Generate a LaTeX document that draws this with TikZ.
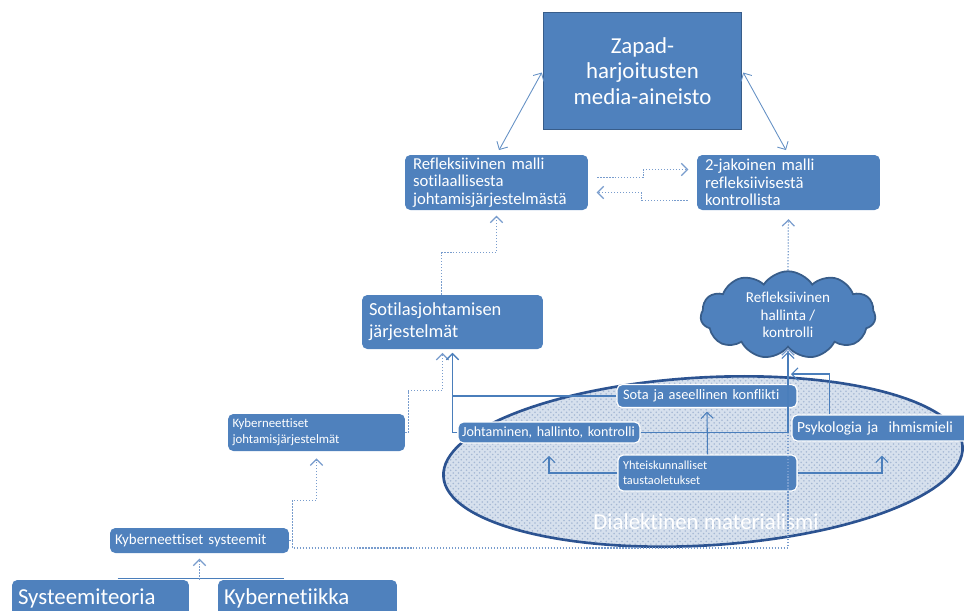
\documentclass[tikz,border=0pt]{standalone}
\usepackage{fontspec}
\setmainfont{Carlito}[Ligatures=NoCommon]
\usetikzlibrary{arrows.meta,shapes.symbols,patterns,calc}
\definecolor{BoxBlue}{RGB}{79,129,189}
\definecolor{EdgeBlue}{RGB}{56,93,138}
\definecolor{LinkBlue}{RGB}{74,126,187}
\definecolor{DotBlue}{RGB}{120,156,205}
\definecolor{OvalFill}{RGB}{214,224,237}
\definecolor{OvalDots}{RGB}{165,184,212}
\definecolor{OvalEdge}{RGB}{44,83,145}

\begin{document}
\begin{tikzpicture}[x=0.02cm,y=-0.02cm,>={Straight Barb[length=3.5pt,width=7pt]},
  box/.style={fill=BoxBlue,text=white,rounded corners=3pt,align=left,inner ysep=0pt},
  inbox/.style={box,draw=white,line width=.7pt},
  link/.style={LinkBlue,line width=.6pt,->},
  dotlink/.style={DotBlue,line width=.7pt,densely dotted,->}]

\useasboundingbox (0,0) rectangle (964,610);

% background oval
\draw[OvalEdge,line width=1.5pt,preaction={fill=OvalFill},pattern=crosshatch dots,pattern color=OvalDots]
  (703,461.5) ellipse [x radius=260,y radius=84,rotate=3.3];
\node[text=white,font=\fontsize{13}{15}\selectfont] (dialektik) at (706,522) {Dialektinen materialismi};

\node[box,draw=EdgeBlue,line width=1pt,rounded corners=0pt,align=center,minimum width=3.96cm,minimum height=2.34cm,font=\fontsize{13}{14.5}\selectfont] (zapad) at (642.5,71) {Zapad-\\harjoitusten\\media-aineisto};

\node[box,text width=3.34cm,inner xsep=.16cm,minimum height=1.1cm,font=\fontsize{9.5}{10}\selectfont] (refl) at (496.5,182.5) {Refleksiivinen malli\\sotilaallisesta\\johtamisjärjestelmästä};
\node[box,text width=3.34cm,inner xsep=.16cm,minimum height=1.1cm,font=\fontsize{9.5}{10}\selectfont] (kaksi) at (788.5,182.5) {2-jakoinen malli\\refleksiivisestä\\kontrollista};
\node[box,text width=3.34cm,inner xsep=.14cm,minimum height=1.08cm,font=\fontsize{10.5}{12.5}\selectfont] (sotilas) at (452.5,322) {Sotilasjohtamisen\\järjestelmät};
\node[cloud,cloud puffs=11,cloud puff arc=115,aspect=1.9,fill=BoxBlue,draw=EdgeBlue,line width=1pt,text=white,align=center,
  inner sep=0pt,minimum width=3.5cm,minimum height=1.75cm,font=\fontsize{8.6}{10}\selectfont] (pilvi) at (788,315) {Refleksiivinen\\hallinta /\\kontrolli};

\node[box,text width=3.36cm,inner xsep=.09cm,minimum height=.74cm,font=\fontsize{7.3}{9}\selectfont] (kybjoht) at (316.5,432.5) {Kyberneettiset\\johtamisjärjestelmät};
\node[box,text width=3.38cm,inner xsep=.1cm,minimum height=.5cm,font=\fontsize{8.5}{10}\selectfont] (kybsys) at (199.5,540.5) {Kyberneettiset systeemit};
\node[box,text width=3.3cm,inner xsep=.12cm,minimum height=.72cm,font=\fontsize{13}{15}\selectfont] (systeemi) at (100.5,598) {Systeemiteoria};
\node[box,text width=3.34cm,inner xsep=.12cm,minimum height=.72cm,font=\fontsize{13}{15}\selectfont] (kybern) at (307.5,598) {Kybernetiikka};

\node[inbox,text width=3.36cm,inner xsep=.12cm,minimum height=.46cm,font=\fontsize{8.2}{10}\selectfont] (sota) at (707,396) {Sota ja aseellinen konflikti};
\node[inbox,text width=3.48cm,inner xsep=.08cm,minimum height=.42cm,font=\fontsize{8}{10}\selectfont] (joht) at (549,432.5) {Johtaminen, hallinto, kontrolli};
\node[inbox,text width=3.4cm,inner xsep=.1cm,minimum height=.52cm,font=\fontsize{8.8}{10}\selectfont] (psyk) at (882,428) {Psykologia ja\ \ ihmismieli};
\node[inbox,text width=3.38cm,inner xsep=.1cm,minimum height=.72cm,font=\fontsize{7}{8.5}\selectfont] (yht) at (707.5,473) {Yhteiskunnalliset\\taustaoletukset};

% connectors
\draw[<->,LinkBlue!85,line width=.5pt,shorten <=1pt,shorten >=3pt] (zapad.west) -- (refl.north);
\draw[<->,LinkBlue!85,line width=.5pt,shorten <=1pt,shorten >=3pt] (zapad.east) -- (kaksi.north);
\draw[dotlink] ($(refl.east)+(9,-5)$) -- ++(46,0) -- ++(0,-8) -- ++(45,0);
\draw[dotlink] ($(kaksi.west)+(-9,18)$) -- ++(-46,0) -- ++(0,-8) -- ++(-45,0);
\draw[dotlink,shorten >=3pt] ($(sotilas.north)+(-11,0)$) -- ++(0,-42) -| (refl.south);
\draw[dotlink,shorten >=5pt] (pilvi.north) -- (kaksi.south);
\draw[dotlink,shorten >=2pt] (kybjoht.east) -- ++(3,0) -- ++(0,-42) -| ($(sotilas.south)+(-10,0)$);
\draw[link,shorten >=2pt] (sota.west) -| (sotilas.south);
\draw[link,shorten >=2pt] (joht.west) -| (sotilas.south);
\draw[dotlink,shorten >=4pt] (kybsys.east) -- ++(3,0) -- ++(0,-40) -| (kybjoht.south);
\draw[dotlink] (kybsys.east) -- ++(3,0) -- ++(0,7.5) -| (pilvi.south);
\draw[link,shorten >=2pt] (joht.east) -| (pilvi.south);
\coordinate (liitos) at (791,374);
\draw[link] ($(psyk.north west)+(38,0)$) |- (liitos);
\draw[link,shorten >=7pt] (yht.west) -| (joht.south);
\draw[link,shorten >=2pt] (yht.north) -- (sota.south);
\draw[link,shorten >=8pt] (yht.east) -| (psyk.south);
\draw[LinkBlue,line width=.8pt] ($(systeemi.north)+(17,-1)$) -- ($(kybern.north)+(-24,-1)$);
\draw[dotlink,shorten >=3pt] (kybsys.south |- systeemi.north) -- (kybsys.south);

\end{tikzpicture}
\end{document}
